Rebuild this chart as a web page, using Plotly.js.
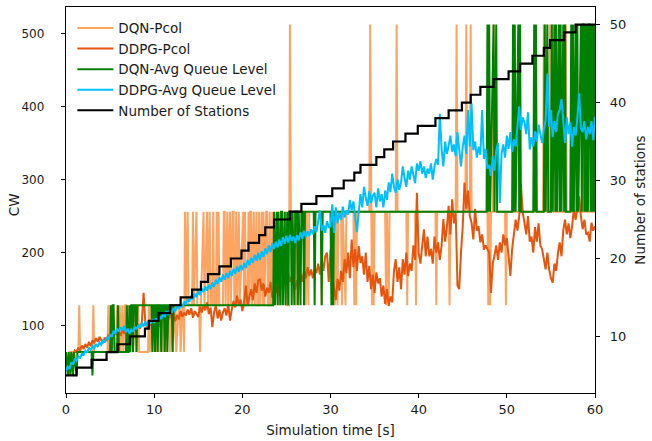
<!DOCTYPE html>
<html>
<head>
<meta charset="utf-8">
<script src="https://cdn.plot.ly/plotly-3.0.1.min.js"></script>
<style>html,body{margin:0;padding:0;background:#fff;}#chart{width:652px;height:441px;}</style>
</head>
<body>
<div id="chart"></div>
<script>
// ---- data ----
// sample spacing of the continuous series: 0.2 s, starting at 0 s
const sampleStart = 0;
const sampleStep = 0.2;

// DDPG-Pcol CW, one value every 0.2 s from 0 to 60 s
const ddpgPcol = [
  48, 55, 52, 62, 58, 66, 64, 70, 66, 73,
  68, 75, 70, 78, 72, 80, 76, 83, 78, 85,
  80, 76, 84, 79, 88, 82, 90, 85, 92, 87,
  92, 86, 95, 89, 97, 92, 99, 94, 101, 95,
  97, 102, 96, 105, 145, 103, 98, 106, 100, 108,
  102, 110, 104, 99, 108, 112, 105, 114, 108, 116,
  110, 118, 106, 115, 109, 120, 112, 118, 114, 122,
  115, 124, 111, 120, 116, 112, 126, 118, 128, 121,
  132, 116, 125, 98, 119, 128, 110, 122, 107, 118,
  124, 114, 130, 107, 122, 134, 125, 141, 128, 136,
  120, 132, 155, 128, 140, 150, 135, 158, 145, 162,
  164, 148, 158, 140, 152, 145, 160, 138, 150, 145,
  155, 140, 162, 150, 168, 155, 172, 160, 168, 158,
  150, 162, 155, 170, 160, 176, 165, 180, 168, 177,
  165, 178, 172, 185, 170, 190, 175, 195, 200, 160,
  204, 168, 150, 135, 164, 148, 175, 160, 191, 172,
  200, 165, 218, 180, 205, 175, 209, 186, 195, 170,
  200, 160, 182, 150, 170, 145, 173, 158, 165, 140,
  155, 130, 150, 127, 140, 132, 175, 191, 160, 180,
  150, 191, 170, 200, 168, 185, 175, 210, 190, 282,
  200, 185, 209, 232, 195, 222, 195, 205, 185, 222,
  200, 214, 190, 210, 246, 215, 235, 264, 225, 273,
  240, 255, 155, 150, 200, 236, 296, 260, 285, 250,
  241, 218, 260, 230, 236, 214, 225, 204, 210, 204,
  200, 145, 185, 196, 210, 190, 214, 200, 225, 210,
  220, 195, 168, 205, 223, 245, 230, 250, 293, 255,
  241, 225, 250, 215, 222, 200, 235, 215, 240, 210,
  205, 190, 177, 200, 177, 165, 159, 185, 175, 200,
  214, 195, 230, 245, 225, 240, 220, 236, 259, 245,
  262, 277, 250, 232, 245, 225, 227, 215, 241, 230,
  236
];

// DDPG-Avg Queue Level CW, one value every 0.2 s from 0 to 60 s
const ddpgQueue = [
  38, 44, 41, 50, 47, 55, 52, 58, 56, 62,
  60, 66, 63, 70, 67, 72, 69, 75, 71, 77,
  74, 80, 77, 84, 81, 88, 85, 93, 89, 96,
  92, 98, 94, 100, 91, 96, 89, 95, 92, 99,
  95, 101, 97, 104, 99, 106, 100, 107, 103, 109,
  104, 110, 106, 113, 109, 117, 112, 120, 115, 122,
  118, 124, 120, 127, 123, 130, 125, 133, 129, 137,
  133, 141, 136, 144, 139, 148, 142, 151, 146, 154,
  148, 156, 150, 159, 153, 163, 157, 166, 160, 170,
  163, 172, 165, 175, 168, 178, 171, 181, 174, 183,
  176, 186, 179, 190, 183, 193, 186, 197, 189, 200,
  190, 202, 194, 206, 198, 210, 201, 213, 205, 215,
  207, 218, 209, 221, 212, 223, 214, 224, 216, 222,
  213, 224, 217, 228, 219, 230, 221, 229, 223, 232,
  225, 236, 228, 242, 258, 230, 238, 227, 243, 235,
  236, 266, 227, 262, 240, 255, 245, 263, 248, 258,
  252, 272, 258, 270, 250, 228, 255, 280, 262, 290,
  275, 264, 284, 268, 278, 282, 262, 288, 270, 280,
  262, 285, 272, 296, 283, 308, 290, 282, 300, 286,
  296, 318, 302, 290, 312, 300, 318, 305, 295, 322,
  312, 325, 308, 318, 302, 315, 308, 322, 300, 318,
  328, 320, 390, 342, 318, 352, 335, 346, 360, 338,
  348, 332, 365, 342, 318, 345, 360, 335, 395, 345,
  404, 340, 352, 330, 345, 334, 395, 328, 342, 315,
  320, 305, 332, 312, 340, 350, 268, 335, 348, 330,
  360, 342, 365, 338, 355, 345, 372, 400, 368, 385,
  378, 362, 392, 341, 358, 345, 366, 352, 375, 360,
  350, 368, 382, 445, 372, 395, 358, 380, 365, 390,
  395, 410, 372, 350, 385, 362, 378, 345, 372, 360,
  385, 418, 370, 365, 380, 355, 372, 362, 380, 354,
  386
];

// DQN-Pcol CW: [time s, CW] samples where the value changes
const dqnPcol = [
  [0,64],[0.3,32],[0.4,64],[1.4,64],[1.5,128],[1.6,64],[3.0,64],[3.1,128],[3.2,64],
  [4.7,64],[4.8,128],[4.9,64],[5.0,128],[5.1,64],[5.7,64],[5.8,128],[5.9,64],[6.1,128],[6.2,64],
  [6.4,128],[6.5,64],[6.7,128],[6.8,128],[6.9,64],[7.1,128],[7.2,64],[7.5,128],[7.6,64],
  [7.9,128],[8.0,64],[8.2,128],[8.3,64],[9.3,64],[9.4,128],[9.5,64],[9.7,128],[9.8,64],
  [10.1,128],[10.2,64],[10.4,128],[10.5,128],[10.6,64],[10.9,128],[11.0,64],[11.3,128],[11.4,64],
  [11.7,128],[11.8,64],[12.0,128],[12.1,64],[12.4,128],[12.5,64],[12.8,128],[12.9,128],[13.0,64],
  [13.2,128],[13.3,128],[13.4,64],[13.5,256],[13.6,128],[13.8,256],[13.9,128],[14.3,128],[14.4,256],
  [14.5,128],[14.8,256],[14.9,128],[15.1,128],[15.2,64],[15.3,128],[15.6,256],[15.7,128],[16.0,256],
  [16.1,128],[16.3,256],[16.4,128],[16.6,128],[16.7,256],[16.8,128],[17.0,128],[17.1,256],[17.2,128],
  [17.3,256],[17.4,128],[17.8,128],[17.9,256],[18.0,256],[18.1,128],[18.3,256],[18.4,128],
  [18.6,256],[18.7,128],[18.9,256],[19.0,256],[19.1,128],[19.2,128],[19.3,256],[19.4,128],
  [19.6,256],[19.7,128],[20.1,256],[20.2,128],[20.3,256],[20.4,128],[20.6,128],[20.7,256],[20.8,128],
  [20.9,256],[21.0,256],[21.1,128],[21.3,256],[21.4,128],[21.6,256],[21.7,128],[21.8,128],[21.9,256],
  [22.0,128],[22.2,256],[22.3,128],[22.4,256],[22.5,128],[22.7,256],[22.8,256],[22.9,128],
  [23.0,128],[23.1,256],[23.2,128],[23.3,128],[23.4,256],[23.5,128],[24.0,256],[24.1,128],
  [24.4,256],[24.5,128],[24.9,256],[25.0,128],[25.3,128],[25.4,512],[25.5,256],[26.0,256],[26.1,128],[26.2,256],
  [27.1,256],[27.2,128],[27.3,256],[27.5,128],[27.6,256],[28.9,256],[29.0,128],[29.1,256],
  [30.4,256],[30.5,128],[30.6,256],[30.8,128],[30.9,256],[31.2,256],[31.3,128],[31.4,256],
  [31.7,128],[31.8,256],[32.6,256],[32.7,128],[32.8,256],[32.9,128],[33.0,256],[34.4,256],
  [34.5,512],[34.6,256],[34.7,128],[34.8,256],[34.9,128],[35.0,256],[36.2,256],[36.3,128],
  [36.4,256],[36.6,128],[36.7,256],[37.4,256],[37.5,512],[37.6,256],[38.6,256],[38.7,128],
  [38.8,256],[39.6,256],[39.7,128],[39.8,256],[41.9,256],[42.0,128],[42.1,256],[43.4,256],
  [43.5,128],[43.6,256],[44.2,256],[44.3,512],[44.4,256],[45.3,256],[45.4,512],[45.5,256],
  [45.8,256],[45.9,512],[46.0,256],[47.8,256],[47.9,128],[48.0,256],[48.1,128],[48.2,256],
  [48.4,256],[48.5,512],[48.6,256],[49.8,256],[49.9,128],[50.0,256],[54.1,256],[54.2,512],
  [54.3,256],[54.4,512],[54.5,256],[54.8,256],[54.9,512],[55.0,256],[55.2,512],[55.3,256],
  [56.6,256],[56.7,512],[56.8,256],[58.6,256],[58.7,512],[58.8,256],[60,256]
];

// DQN-Avg Queue Level CW: [time s, CW] samples where the value changes
const dqnQueue = [
  [0,64],[0.2,32],[0.3,64],[0.5,32],[0.6,64],[0.8,32],[0.9,64],[1.2,32],[1.3,64],[2.9,64],[3.0,32],[3.1,64],
  [5.0,64],[5.1,128],[5.2,64],[5.3,128],[5.4,128],[5.5,64],[5.8,64],[5.9,128],[6.0,64],[6.8,64],
  [6.9,128],[7.0,64],[7.1,64],[7.2,128],[7.3,64],[7.4,128],[7.5,128],[7.6,64],[7.7,128],[7.9,128],
  [8.0,64],[8.1,128],[9.7,128],[9.8,64],[9.9,128],[10.0,128],[10.1,64],[10.2,128],[10.3,128],
  [10.4,64],[10.5,128],[10.7,128],[10.8,64],[10.9,128],[11.1,128],[11.2,64],[11.3,128],[11.4,128],
  [11.5,64],[11.6,128],[12.0,128],[12.1,64],[12.2,128],
  [23.5,128],[23.6,256],[23.7,128],[23.9,256],[24.0,128],[24.1,256],[24.3,128],[24.4,256],[24.5,256],
  [24.6,128],[24.8,256],[24.9,128],[25.1,256],[25.2,128],[25.3,256],[25.5,256],[25.6,128],[25.7,256],
  [25.9,128],[26.0,256],[26.2,256],[26.3,128],[26.4,256],[26.6,128],[26.7,256],[26.9,256],[27.0,128],
  [27.1,256],[28.1,256],[28.2,128],[28.3,256],[28.9,256],[29.0,128],[29.1,256],[30.0,256],[30.1,128],
  [30.2,256],[30.3,128],[30.4,256],
  [47.7,256],[47.8,512],[47.9,256],[48.0,512],[48.1,256],[48.5,512],[48.6,256],[48.8,512],[48.9,256],
  [50.6,256],[50.7,512],[50.8,256],[50.9,512],[51.0,256],[51.3,512],[51.4,256],[51.5,512],[51.6,256],
  [53.0,256],[53.1,512],[53.2,256],[53.3,512],[53.4,256],[54.2,256],[54.3,512],[54.4,256],[54.6,512],
  [54.7,256],[55.0,256],[55.1,512],[55.2,256],[55.4,512],[55.5,256],[55.6,512],[55.7,256],[55.9,512],
  [56.0,256],[56.1,512],[56.2,256],[56.4,512],[56.5,256],[56.6,512],[56.7,256],[57.2,256],[57.3,512],
  [57.4,256],[57.5,512],[57.6,256],[57.8,512],[57.9,256],[58.0,512],[58.1,256],[58.4,512],[58.5,256],
  [58.6,512],[58.7,512],[58.8,256],[58.9,512],[59.0,256],[59.1,512],[59.2,256],[59.3,512],[59.4,512],
  [59.5,256],[59.6,512],[59.7,256],[59.8,512],[59.9,256],[60,512]
];

// Number of stations: time (s) at which each count starts
const stationTimes = [0, 1.2, 2.9, 4.6, 5.85, 7.25, 8.95, 9.4, 10.5, 11.8, 13.0, 14.3, 15.3, 16.1, 17.4,
  18.7, 19.9, 20.7, 21.9, 22.6, 23.6, 25.4, 26.7, 28.4, 30.2, 31.5, 32.7, 33.4, 35.2, 36.1, 37.1,
  38.5, 39.9, 41.9, 43.4, 44.9, 45.9, 47.0, 48.5, 50.2, 51.5, 52.9, 54.2, 54.9, 56.5, 57.8, 60];
const stationCounts = [5, 6, 7, 8, 9, 10, 11, 12, 13, 14, 15, 16, 17, 18, 19, 20, 21, 22, 23, 24, 25,
  26, 27, 28, 29, 30, 31, 32, 33, 34, 35, 36, 37, 38, 39, 40, 41, 42, 43, 44, 45, 46, 47, 48, 49, 50, 50];

const seriesNames = ['DQN-Pcol', 'DDPG-Pcol', 'DQN-Avg Queue Level', 'DDPG-Avg Queue Level', 'Number of Stations'];
const xTitle = 'Simulation time [s]';
const yTitle = 'CW';
const y2Title = 'Number of stations';

// ---- chart ----
const FONT = 'DejaVu Sans, sans-serif';
const TXT = '#1a1a1a';
const LW = 2;

const traces = [
  {name: seriesNames[0], x: dqnPcol.map(p => p[0]), y: dqnPcol.map(p => p[1]),
   mode: 'lines', line: {color: '#FDA462', width: LW}, yaxis: 'y'},
  {name: seriesNames[1], x0: sampleStart, dx: sampleStep, y: ddpgPcol,
   mode: 'lines', line: {color: '#E6550D', width: LW}, yaxis: 'y'},
  {name: seriesNames[2], x: dqnQueue.map(p => p[0]), y: dqnQueue.map(p => p[1]),
   mode: 'lines', line: {color: '#008000', width: LW}, yaxis: 'y'},
  {name: seriesNames[3], x0: sampleStart, dx: sampleStep, y: ddpgQueue,
   mode: 'lines', line: {color: '#00BFFF', width: LW}, yaxis: 'y'},
  {name: seriesNames[4], x: stationTimes, y: stationCounts,
   mode: 'lines', line: {color: '#000000', width: 2.2, shape: 'hv'}, yaxis: 'y2'}
];

const axisCommon = {
  showgrid: false, zeroline: false, showline: true, linecolor: '#000', linewidth: 1.2,
  ticks: 'outside', ticklen: 4, tickwidth: 1, tickcolor: '#000'
};

const layout = {
  width: 652, height: 441,
  margin: {l: 66, r: 57, t: 7, b: 48, pad: 0},
  paper_bgcolor: '#fff', plot_bgcolor: '#fff',
  font: {family: FONT, color: TXT, size: 13},
  showlegend: true,
  legend: {x: 0.012, y: 0.985, xanchor: 'left', yanchor: 'top', bgcolor: 'rgba(0,0,0,0)',
           borderwidth: 0, itemwidth: 36, font: {family: FONT, size: 13.5, color: TXT}, traceorder: 'normal'},
  xaxis: Object.assign({}, axisCommon, {
    range: [0, 60], tickvals: [0, 10, 20, 30, 40, 50, 60], mirror: true,
    tickfont: {family: FONT, size: 13, color: TXT},
    title: {text: xTitle, font: {family: FONT, size: 13.5, color: TXT}, standoff: 9}
  }),
  yaxis: Object.assign({}, axisCommon, {
    range: [8, 536], tickvals: [100, 200, 300, 400, 500], mirror: true,
    tickfont: {family: FONT, size: 12, color: TXT}, ticklabelstandoff: 14,
    title: {text: ''}
  }),
  yaxis2: Object.assign({}, axisCommon, {
    overlaying: 'y', side: 'right', range: [2.75, 52.25], tickvals: [10, 20, 30, 40, 50],
    tickfont: {family: FONT, size: 13, color: TXT}, ticklabelstandoff: 7,
    title: {text: y2Title, font: {family: FONT, size: 13.5, color: TXT}, standoff: 10}
  }),
  annotations: [{
    text: yTitle, xref: 'paper', yref: 'paper', x: -0.098, y: 0.487,
    xanchor: 'center', yanchor: 'middle', textangle: -90, showarrow: false,
    font: {family: FONT, size: 13.5, color: TXT}
  }]
};

Plotly.newPlot('chart', traces, layout, {displayModeBar: false, staticPlot: true});
</script>
</body>
</html>
